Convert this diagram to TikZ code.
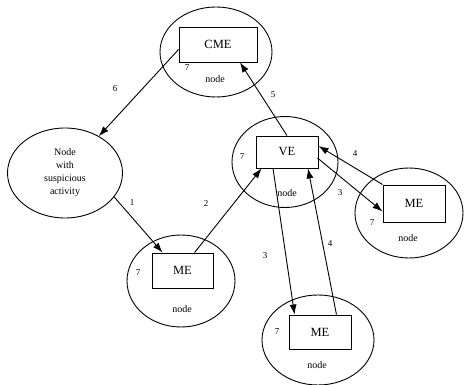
\documentclass[tikz,border=0pt]{standalone}
\usepackage{fontspec}
\setmainfont{Liberation Serif}
\usetikzlibrary{shapes.geometric,arrows.meta,calc}
\begin{document}
\begin{tikzpicture}[x=1pt,y=-1pt,
  oval/.style={draw,ellipse,inner sep=0pt,line width=0.9pt},
  box/.style={draw,rectangle,inner sep=0pt,line width=0.9pt,font=\fontsize{12.5}{12.5}\selectfont},
  small/.style={font=\fontsize{10}{10}\selectfont,inner sep=0pt},
  num/.style={font=\fontsize{9}{9}\selectfont,inner sep=0pt},
  arr/.style={-{Latex[length=10pt,width=7pt]},line width=0.9pt}]
\useasboundingbox (0,0) rectangle (464,385);
% ellipses
\node[oval,minimum width=112pt,minimum height=90pt] (cmeo) at (216,52) {};
\node[oval,minimum width=115pt,minimum height=90pt,align=center,font=\fontsize{10}{13}\selectfont] (sus) at (65,173) {Node\\with\\suspicious\\activity};
\node[oval,minimum width=106pt,minimum height=91pt] (veo) at (285,162) {};
\node[oval,minimum width=108pt,minimum height=90pt] (me2o) at (409,213) {};
\node[oval,minimum width=108pt,minimum height=92pt] (me1o) at (181,281) {};
\node[oval,minimum width=112pt,minimum height=90pt] (me3o) at (318,340) {};
% boxes
\node[box,minimum width=78pt,minimum height=35pt] (cme) at (218,44.5) {CME};
\node[box,minimum width=62pt,minimum height=32pt] (ve) at (287,152) {VE};
\node[box,minimum width=62pt,minimum height=37pt] (me2) at (414,203.5) {ME};
\node[box,minimum width=61pt,minimum height=35pt] (me1) at (182.5,270.5) {ME};
\node[box,minimum width=62pt,minimum height=34pt] (me3) at (320,332) {ME};
% node texts
\node[small] (n1) at (215,79) {node};
\node[small] (n2) at (287,193) {node};
\node[small] (n3) at (408,238) {node};
\node[small] (n4) at (182,309) {node};
\node[small] (n5) at (317,365) {node};
% sevens
\node[num] (s1) at (187,68) {7};
\node[num] (s2) at (242,157) {7};
\node[num] (s3) at (372,223) {7};
\node[num] (s4) at (138,273) {7};
\node[num] (s5) at (277,332) {7};
% arrows
\draw[arr] ($(cme.west)+(0,5)$) -- (sus);
\draw[arr] (ve.north) -- ($(cme.south)+(22,0)$);
\draw[arr] (sus.-26) -- ($(me1.north west)+(11,0)$);
\draw[arr] ($(me1.north west)+(43,0)$) -- ($(ve.south west)+(6,0)$);
\draw[arr] ($(ve.east)+(-1,6)$) -- ($(me2.west)+(0,8)$);
\draw[arr] (me2.north west) -- ($(ve.east)+(0,-6)$);
\draw[arr] ($(ve.south)+(-14,0)$) -- ($(me3.north west)+(6,0)$);
\draw[arr] ($(me3.north east)+(-15,0)$) -- ($(ve.south)+(21,0)$);
% labels
\node[num] (l6) at (115,89) {6};
\node[num] (l5) at (273,95) {5};
\node[num] (l1) at (132,203) {1};
\node[num] (l2) at (206,204) {2};
\node[num] (l4a) at (355,154) {4};
\node[num] (l3a) at (340,193) {3};
\node[num] (l3b) at (265,256) {3};
\node[num] (l4b) at (330,244) {4};
\end{tikzpicture}
\end{document}
